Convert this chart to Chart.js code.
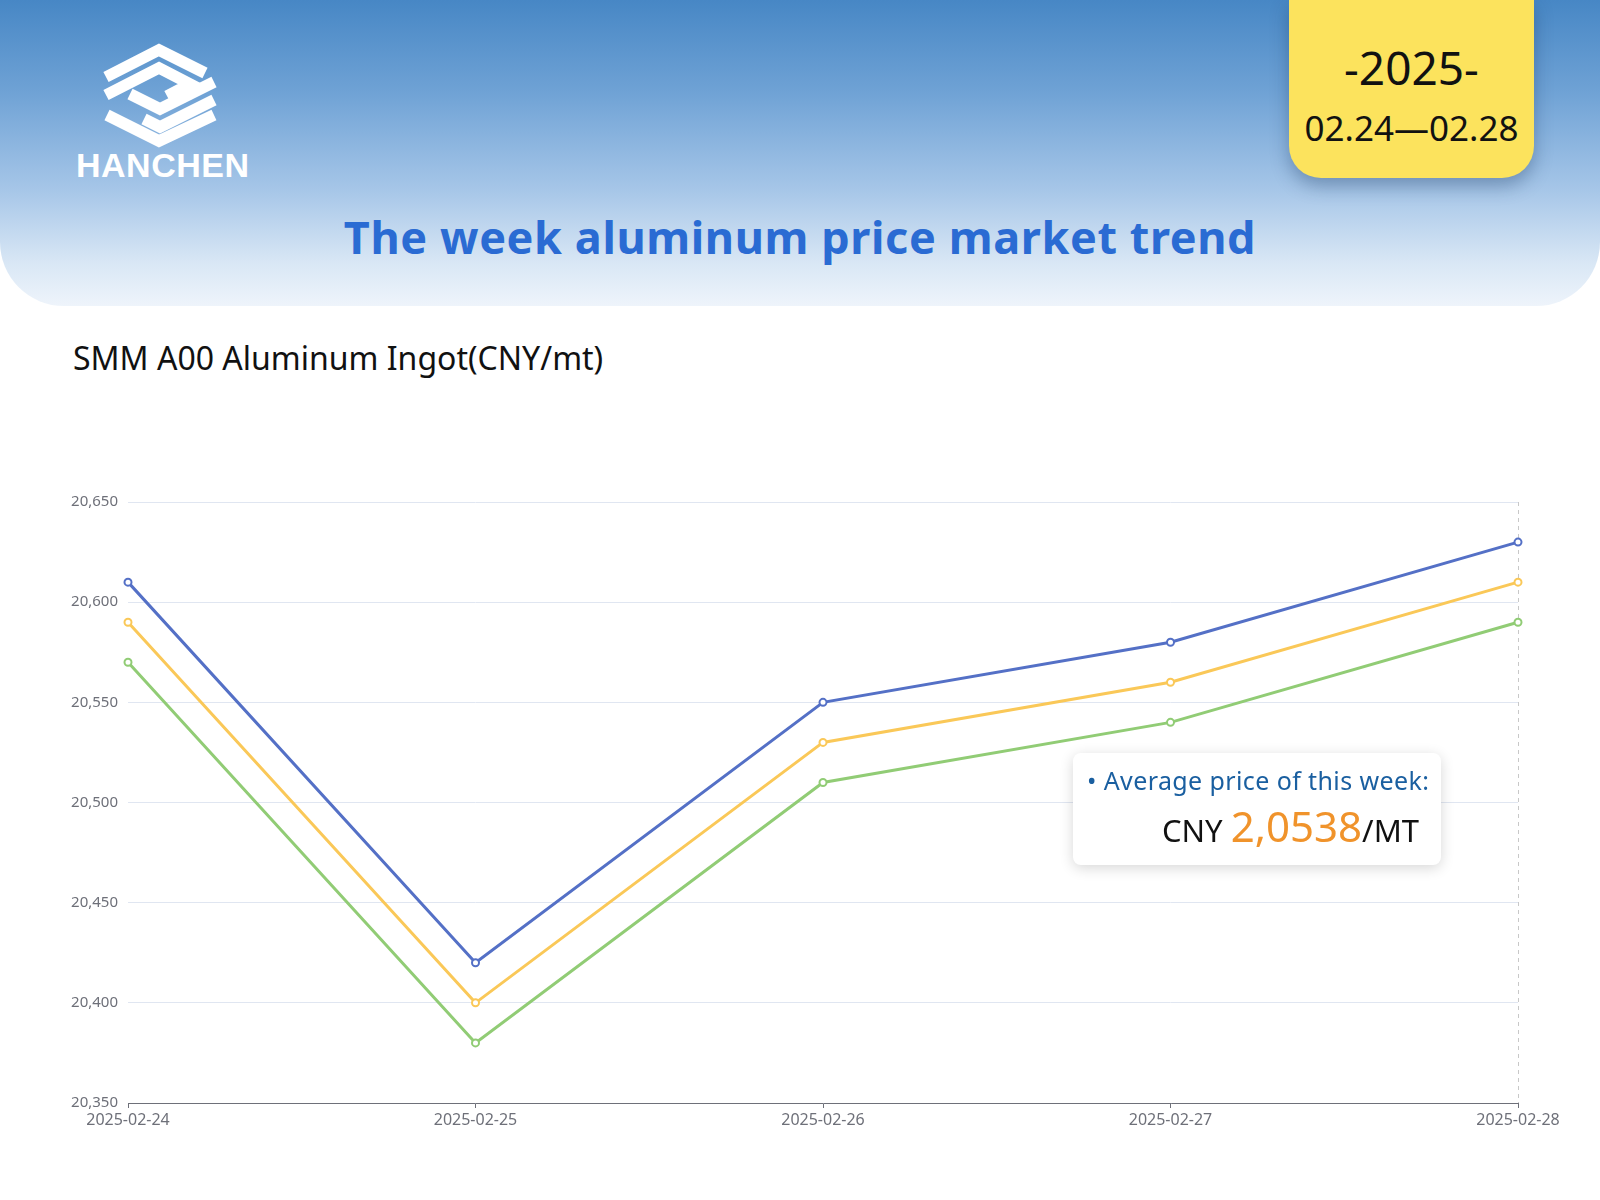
<!DOCTYPE html>
<html>
<head>
<meta charset="utf-8">
<script src="https://cdn.jsdelivr.net/npm/chart.js@4/dist/chart.umd.min.js"></script>
<style>
  html, body { margin: 0; padding: 0; background: #ffffff; }
  body { width: 1600px; height: 1200px; position: relative; overflow: hidden; font-family: "Noto Sans", "Open Sans", sans-serif; }
  #header { position: absolute; left: 0; top: 0; width: 1600px; height: 306px;
    background: linear-gradient(180deg, #4787c5 0%, #6fa2d5 30%, #a6c6e8 62%, #d9e7f5 86%, #eef4fb 100%);
    border-radius: 0 0 64px 64px; }
  #logo { position: absolute; left: 96px; top: 40px; }
  #brand { position: absolute; left: 76px; top: 146px; color: #fff; font: bold 34px "Liberation Sans", Arial, sans-serif; letter-spacing: 0.5px; }
  #datebox { position: absolute; left: 1289px; top: 0; width: 245px; height: 178px; background: #fce35d;
    border-radius: 0 0 32px 32px; box-shadow: 0 8px 18px rgba(20,50,90,0.35); text-align: center; color: #111; }
  #year { position: absolute; left: 0; right: 0; top: 38px; font: 46px "Noto Sans", sans-serif; line-height: 58px; }
  #range { position: absolute; left: 0; right: 0; top: 104px; font: 35px "Noto Sans", sans-serif; line-height: 48px; }
  #title { position: absolute; left: 0; width: 1600px; top: 206px; text-align: center; color: #2a6bd3;
    font: bold 45px "Noto Sans", sans-serif; letter-spacing: 0.6px; }
  #subtitle { position: absolute; left: 73px; top: 336px; font: 32px "Noto Sans", sans-serif; color: #111; }
  #chartwrap { position: absolute; left: 0; top: 0; width: 1600px; height: 1200px; }
  #note { position: absolute; left: 1073px; top: 753px; width: 368px; height: 112px; background: #fff;
    border-radius: 8px; box-shadow: 0 3px 14px rgba(0,0,0,0.16); }
  #note1 { position: absolute; left: 14px; top: 10px; color: #1a5fa0; font: 25px "Noto Sans", sans-serif; letter-spacing: 0.4px; white-space: nowrap; }
  #note2 { position: absolute; right: 22px; top: 44px; color: #111; font: 31px "Noto Sans", sans-serif; white-space: nowrap; }
  #note2 .num { color: #f0932b; font-size: 42px; }
</style>
</head>
<body>
<div id="header">
  <svg id="logo" width="130" height="115" viewBox="96 40 130 115">
    <g fill="none" stroke="#fff" stroke-width="11.5" stroke-linejoin="miter">
      <polyline points="106,77 159,50 205,73"/>
      <polyline points="106,95 159,68 190,84 167,96"/>
      <polyline points="214,82 160,109 130,94"/>
      <polyline points="214,100 160,127 144,119"/>
      <polyline points="107,115 159,141 214,115"/>
    </g>
  </svg>
  <div id="brand">HANCHEN</div>
  <div id="title">The week aluminum price market trend</div>
</div>
<div id="datebox">
  <div id="year">-2025-</div>
  <div id="range">02.24—02.28</div>
</div>
<div id="subtitle">SMM A00 Aluminum Ingot(CNY/mt)</div>
<div id="chartwrap"><canvas id="c" width="1600" height="1200"></canvas></div>
<div id="note">
  <div id="note1">• Average price of this week:</div>
  <div id="note2">CNY <span class="num">2,0538</span>/MT</div>
</div>
<script>
const categories = ['2025-02-24', '2025-02-25', '2025-02-26', '2025-02-27', '2025-02-28'];
const seriesBlue = [20610, 20420, 20550, 20580, 20630];
const seriesYellow = [20590, 20400, 20530, 20560, 20610];
const seriesGreen = [20570, 20380, 20510, 20540, 20590];
const yMin = 20350;
const yMax = 20650;
const yStep = 50;

const crosshair = {
  id: 'crosshair',
  beforeDatasetsDraw(chart) {
    const x = chart.scales.x.getPixelForValue(categories.length - 1);
    const { top, bottom } = chart.chartArea;
    const ctx = chart.ctx;
    ctx.save();
    ctx.strokeStyle = '#c8c8c8';
    ctx.lineWidth = 1;
    ctx.setLineDash([4, 4]);
    ctx.beginPath();
    ctx.moveTo(Math.round(x) + 0.5, top);
    ctx.lineTo(Math.round(x) + 0.5, bottom);
    ctx.stroke();
    ctx.restore();
  }
};

function ds(data, color) {
  return {
    data, borderColor: color, backgroundColor: '#ffffff', borderWidth: 3,
    pointRadius: 3.5, pointBorderWidth: 2, pointBorderColor: color, pointBackgroundColor: '#ffffff',
    tension: 0, fill: false
  };
}

new Chart(document.getElementById('c'), {
  type: 'line',
  data: {
    labels: categories,
    datasets: [ds(seriesGreen, '#91cc75'), ds(seriesYellow, '#fac858'), ds(seriesBlue, '#5470c6')]
  },
  options: {
    responsive: false,
    animation: false,
    devicePixelRatio: 1,
    layout: { padding: { top: 502, right: 82, left: 0, bottom: 0 } },
    plugins: { legend: { display: false }, tooltip: { enabled: false } },
    scales: {
      x: {
        type: 'category',
        offset: false,
        afterFit(s) { s.height = 97; },
        grid: { drawOnChartArea: false, drawTicks: true, tickLength: 5, color: '#6e7079' },
        border: { color: '#6e7079', width: 1 },
        ticks: { color: '#6e7079', font: { family: 'Noto Sans', size: 16 }, padding: 3, maxRotation: 0, autoSkip: false }
      },
      y: {
        min: yMin, max: yMax,
        afterFit(s) { s.width = 128; },
        grid: { color: '#e0e6f1', drawTicks: false, lineWidth: 1 },
        border: { display: false },
        ticks: {
          stepSize: yStep, color: '#6e7079', padding: 10,
          font: { family: 'Noto Sans', size: 15 },
          callback: v => Number(v).toLocaleString('en-US')
        }
      }
    }
  },
  plugins: [crosshair]
});
</script>
</body>
</html>
